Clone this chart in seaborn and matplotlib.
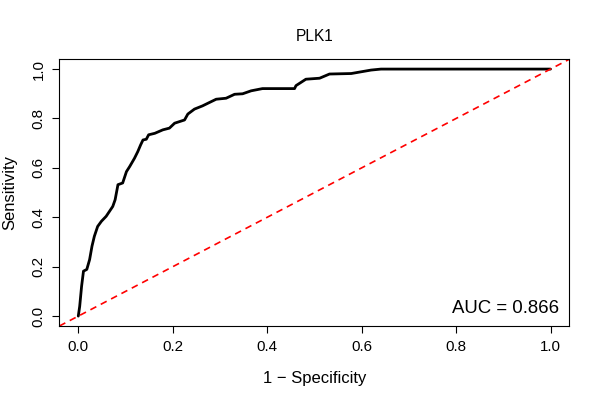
import numpy as np
import pandas as pd
import matplotlib
matplotlib.use("Agg")
import matplotlib.pyplot as plt
import seaborn as sns

# ROC curve points (1 - specificity, sensitivity)
fpr = [0.000, 0.003, 0.007, 0.011, 0.018, 0.024, 0.029, 0.034, 0.041, 0.049,
       0.059, 0.066, 0.073, 0.078, 0.084, 0.094, 0.102, 0.109, 0.119, 0.126,
       0.132, 0.137, 0.144, 0.149, 0.162, 0.179, 0.193, 0.204, 0.225, 0.232,
       0.246, 0.263, 0.278, 0.292, 0.313, 0.331, 0.348, 0.366, 0.390, 0.458,
       0.461, 0.482, 0.511, 0.532, 0.578, 0.620, 0.641, 1.000]
tpr = [0.000, 0.040, 0.121, 0.182, 0.189, 0.229, 0.283, 0.323, 0.363, 0.384,
       0.404, 0.424, 0.444, 0.471, 0.532, 0.539, 0.585, 0.606, 0.639, 0.666,
       0.693, 0.713, 0.716, 0.734, 0.740, 0.754, 0.761, 0.781, 0.794, 0.818,
       0.838, 0.851, 0.865, 0.878, 0.882, 0.898, 0.900, 0.912, 0.921, 0.921,
       0.933, 0.959, 0.963, 0.980, 0.982, 0.996, 1.000, 1.000]

title = "PLK1"
auc = 0.866
ticks = [0.0, 0.2, 0.4, 0.6, 0.8, 1.0]
tick_labels = ["0.0", "0.2", "0.4", "0.6", "0.8", "1.0"]

df = pd.DataFrame({"fpr": fpr, "tpr": tpr})

sns.set_style("white")
plt.rcParams["font.family"] = ["Liberation Sans", "DejaVu Sans"]
plt.rcParams["text.color"] = "black"
plt.rcParams["axes.labelcolor"] = "black"

fig = plt.figure(figsize=(6, 4), dpi=100)
ax = fig.add_axes([0.099, 0.185, 0.850, 0.667])

sns.lineplot(data=df, x="fpr", y="tpr", sort=False, estimator=None,
             color="black", linewidth=2.0, ax=ax)
ax.axline((0, 0), (1, 1), color="red", linestyle=(0, (4, 3)), linewidth=1.2)

ax.set_xlim(-0.04, 1.04)
ax.set_ylim(-0.04, 1.04)
ax.set_xticks(ticks)
ax.set_xticklabels(tick_labels)
ax.set_yticks(ticks)
ax.set_yticklabels(tick_labels, rotation=90, va="center")
ax.tick_params(axis="both", direction="out", length=5, width=0.8,
               labelsize=10.9, colors="black", bottom=True, left=True, pad=5)

for s in ax.spines.values():
    s.set_color("black")
    s.set_linewidth(0.8)

ax.set_xlabel("1 \u2212 Specificity", fontsize=12, labelpad=12)
ax.set_ylabel("Sensitivity", fontsize=12, labelpad=10.5)
ax.set_title(title, fontsize=11.2, pad=13, color="black")

ax.text(0.98, 0.035, f"AUC = {auc:.3f}", transform=ax.transAxes,
        ha="right", va="bottom", fontsize=13.4, color="black")

fig.savefig("out.png", dpi=100)
